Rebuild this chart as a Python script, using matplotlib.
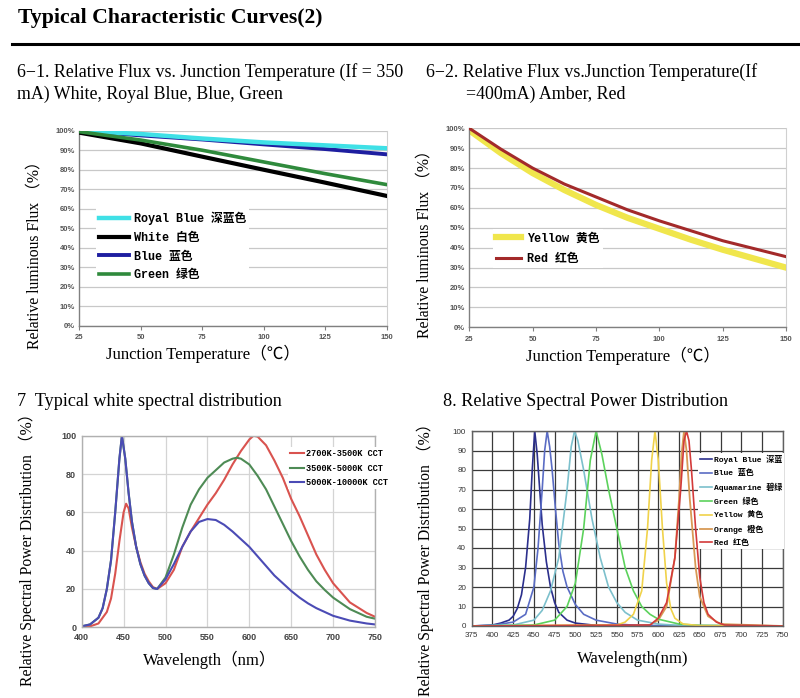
import matplotlib
matplotlib.use("Agg")
import matplotlib.pyplot as plt
from matplotlib.lines import Line2D

# ---------------- data ----------------
# 6-1 relative flux vs junction temperature (white, royal blue, blue, green)
t1 = [25, 50, 75, 100, 125, 150]
royal_blue_flux = [100, 98.3, 96.0, 94.0, 92.5, 91.0]
white_flux = [99.0, 93.5, 86.7, 80.0, 73.4, 66.6]
blue_flux = [100, 97.6, 95.5, 93.0, 90.6, 87.9]
green_flux = [99.5, 95.2, 90.0, 84.0, 78.0, 72.4]

# 6-2 relative flux vs junction temperature (yellow, red)
t2 = [25, 37.5, 50, 62.5, 75, 87.5, 100, 112.5, 125, 137.5, 150]
yellow_flux = [99, 87.5, 77.5, 69, 61.5, 55, 49.5, 44, 39, 34.5, 30]
red_flux = [100, 89.5, 80, 72, 65.5, 59, 53.5, 48.5, 43.5, 39.5, 35.5]

temp_ticks = [25, 50, 75, 100, 125, 150]
pct_ticks = [0, 10, 20, 30, 40, 50, 60, 70, 80, 90, 100]
pct_labels = ["0%", "10%", "20%", "30%", "40%", "50%", "60%", "70%", "80%", "90%", "100%"]

# 7 typical white spectral distribution
wl_cool = [400, 410, 420, 425, 430, 435, 440, 445, 448, 452, 456, 460, 465, 470, 475, 480, 485, 490,
           500, 510, 520, 530, 540, 550, 560, 570, 580, 590, 600, 610, 620, 630, 640, 650, 660, 670,
           680, 690, 700, 720, 740, 750]
spd_cool = [0.5, 1.5, 5, 10, 20, 35, 60, 88, 100, 88, 70, 55, 42, 33, 27, 23, 20.5, 20,
            25, 33, 42, 50, 55, 56.5, 56, 53.5, 50, 46, 42, 37, 32, 27, 23, 19, 15.5, 12.5,
            10, 8, 6, 3.5, 2, 1.5]
wl_neutral = [400, 410, 420, 425, 430, 435, 440, 445, 448, 452, 456, 460, 465, 470, 475, 480, 485, 490,
              500, 510, 520, 530, 540, 550, 560, 570, 580, 585, 590, 600, 610, 620, 630, 640, 650, 660,
              670, 680, 690, 700, 720, 740, 750]
spd_neutral = [0.5, 1.5, 5, 10, 20, 35, 60, 88, 100, 88, 70, 55, 42, 33, 27, 23, 20.5, 20,
               26, 38, 52, 64, 72, 78, 82, 86, 88, 88.5, 88, 85, 79, 72, 63, 54, 45, 37,
               30, 24, 19.5, 15.5, 9.5, 5.5, 4.5]
wl_warm = [400, 410, 420, 430, 435, 440, 445, 450, 453, 456, 460, 465, 470, 475, 480, 485, 490,
           500, 510, 520, 530, 540, 550, 560, 570, 580, 590, 600, 605, 610, 620, 630, 640, 650,
           660, 670, 680, 690, 700, 720, 740, 750]
spd_warm = [0, 0.5, 2, 8, 15, 28, 45, 60, 64.5, 62, 52, 42, 34, 28, 24, 21, 20,
            23, 30, 42, 50, 57, 64, 70, 77, 85, 92, 98, 100, 99.5, 95, 87, 78, 67,
            58, 48, 38, 30, 23, 13, 7.5, 5.5]
cct_labels = ["2700K-3500K CCT", "3500K-5000K CCT", "5000K-10000K CCT"]

# 8 relative spectral power distribution (monochrome LEDs)
wl_royal = [375, 400, 410, 420, 425, 430, 435, 440, 445, 448, 451, 454, 457, 460, 465, 470, 475,
            480, 490, 500, 525, 550, 750]
spd_royal = [0, 0.5, 1.5, 3, 5, 9, 16, 30, 55, 80, 100, 88, 70, 52, 33, 20, 12,
             7, 3, 1.5, 0.3, 0, 0]
wl_blue = [375, 400, 425, 440, 450, 455, 460, 463, 466, 469, 472, 476, 480, 485, 490, 500, 510,
           525, 550, 575, 750]
spd_blue = [0, 0.3, 2, 6, 20, 40, 70, 90, 100, 92, 80, 60, 42, 28, 20, 11, 6,
            3, 1, 0.3, 0]
wl_aqua = [375, 425, 450, 460, 470, 480, 490, 495, 499, 503, 510, 520, 530, 540, 550, 560, 575,
           600, 625, 750]
spd_aqua = [0, 0.5, 3, 8, 18, 35, 70, 92, 100, 95, 80, 55, 35, 20, 12, 7, 3,
            1, 0.3, 0]
wl_green = [375, 450, 475, 490, 500, 510, 518, 525, 532, 540, 550, 560, 570, 580, 590, 600, 625,
            650, 750]
spd_green = [0, 0.5, 3, 10, 22, 50, 85, 100, 88, 70, 50, 30, 18, 10, 6, 3.5, 1,
             0.3, 0]
wl_yellow = [375, 550, 560, 570, 580, 587, 592, 596, 600, 605, 610, 615, 620, 630, 650, 750]
spd_yellow = [0, 0.5, 2, 6, 18, 50, 85, 100, 85, 50, 22, 9, 4, 1, 0.2, 0]
wl_orange = [375, 590, 600, 610, 620, 625, 628, 631, 634, 638, 645, 650, 660, 675, 750]
spd_orange = [0, 0.5, 3, 10, 35, 65, 88, 100, 90, 65, 30, 15, 5, 1, 0]
wl_red = [375, 590, 600, 610, 620, 627, 631, 634, 637, 640, 645, 650, 655, 660, 670, 680, 750]
spd_red = [0, 0.5, 4, 12, 35, 70, 95, 100, 95, 80, 50, 25, 12, 6, 2, 0.5, 0]
led_labels = ["Royal Blue 深蓝", "Blue 蓝色", "Aquamarine 碧绿", "Green 绿色",
              "Yellow 黄色", "Orange 橙色", "Red 红色"]

# ---------------- style ----------------
W, H = 800, 698
SERIF = ["Liberation Serif", "Noto Sans CJK SC", "DejaVu Sans"]
MONO = ["Liberation Mono", "Noto Sans CJK SC", "DejaVu Sans"]
TICKF = ["Liberation Sans", "DejaVu Sans"]


def fx(x):
    return x / W


def fy(y):
    return 1 - y / H


def axrect(x0, y0, x1, y1):
    return [fx(x0), fy(y1), (x1 - x0) / W, (y1 - y0) / H]


fig = plt.figure(figsize=(8, 6.98), dpi=100)
fig.patch.set_facecolor("white")

# header
fig.text(fx(18), fy(18), "Typical Characteristic Curves(2)", fontsize=15.7, fontweight="bold",
         family=SERIF, ha="left", va="center")
fig.add_artist(Line2D([fx(12), fx(800)], [fy(44), fy(44)], color="black", lw=2.2,
                      transform=fig.transFigure))

SUB = 12.9
fig.text(fx(17), fy(72), "6−1. Relative Flux vs. Junction Temperature (If = 350",
         fontsize=SUB, family=SERIF, ha="left", va="center")
fig.text(fx(17), fy(94), "mA) White, Royal Blue, Blue, Green",
         fontsize=SUB, family=SERIF, ha="left", va="center")
fig.text(fx(426), fy(72), "6−2. Relative Flux vs.Junction Temperature(If",
         fontsize=SUB, family=SERIF, ha="left", va="center")
fig.text(fx(466), fy(94), "=400mA) Amber, Red",
         fontsize=SUB, family=SERIF, ha="left", va="center")
fig.text(fx(17), fy(402), "7  Typical white spectral distribution",
         fontsize=13.1, family=SERIF, ha="left", va="center")
fig.text(fx(443), fy(402), "8. Relative Spectral Power Distribution",
         fontsize=13.1, family=SERIF, ha="left", va="center")

YLF = 11.3


def flux_axes(rect):
    ax = fig.add_axes(rect)
    ax.set_xlim(25, 150)
    ax.set_ylim(0, 100)
    ax.set_xticks(temp_ticks)
    ax.set_xticklabels([str(t) for t in temp_ticks], fontsize=5.5, fontweight="bold",
                       color="#555555", family=TICKF)
    ax.set_yticks(pct_ticks)
    ax.set_yticklabels(pct_labels, fontsize=5.5, fontweight="bold", color="#555555", family=TICKF)
    ax.grid(axis="y", color="#C8C8C8", lw=0.9)
    ax.set_axisbelow(True)
    for s in ["left", "bottom"]:
        ax.spines[s].set_color("#808080")
        ax.spines[s].set_linewidth(1.0)
    ax.spines["top"].set_visible(False)
    ax.spines["right"].set_color("#D0D0D0")
    ax.tick_params(axis="y", length=0, pad=3)
    ax.tick_params(axis="x", length=3, color="#808080", pad=3)
    return ax


# ---- panel 6-1 ----
ax1 = flux_axes(axrect(79.3, 130.7, 386.7, 326))
l_rb, = ax1.plot(t1, royal_blue_flux, color="#3FE0E6", lw=3.2, label="Royal Blue 深蓝色", zorder=3)
l_w, = ax1.plot(t1, white_flux, color="#000000", lw=3.0, label="White 白色", zorder=3)
l_b, = ax1.plot(t1, blue_flux, color="#1E1EA0", lw=2.8, label="Blue 蓝色", zorder=2)
l_g, = ax1.plot(t1, green_flux, color="#2F8A3C", lw=2.6, label="Green 绿色", zorder=3)
ax1.legend(handles=[l_rb, l_w, l_b, l_g], loc="upper left", bbox_to_anchor=(fx(90), fy(202)),
           bbox_transform=fig.transFigure, prop={"family": MONO, "size": 8.5, "weight": "bold"},
           frameon=True, framealpha=1, edgecolor="none", fancybox=False, handlelength=2.5,
           handletextpad=0.4, labelspacing=0.58, borderpad=0.3)
fig.text(fx(35), fy(251), "Relative luminous Flux （%）", rotation=90, fontsize=YLF,
         family=SERIF, ha="center", va="center")
fig.text(fx(203), fy(354), "Junction Temperature（℃）", fontsize=12, family=SERIF,
         ha="center", va="center")

# ---- panel 6-2 ----
ax2 = flux_axes(axrect(469.3, 128.3, 786, 327.3))
l_y, = ax2.plot(t2, yellow_flux, color="#F0E64C", lw=4.5, label="Yellow 黄色", zorder=2)
l_r, = ax2.plot(t2, red_flux, color="#A32A2A", lw=2.2, label="Red 红色", zorder=3)
ax2.legend(handles=[l_y, l_r], loc="upper left", bbox_to_anchor=(fx(487), fy(223)),
           bbox_transform=fig.transFigure, prop={"family": MONO, "size": 8.5, "weight": "bold"},
           frameon=True, framealpha=1, edgecolor="none", fancybox=False, handlelength=2.1,
           handletextpad=0.5, labelspacing=0.7, borderpad=0.3)
fig.text(fx(425), fy(240), "Relative luminous Flux （%）", rotation=90, fontsize=YLF,
         family=SERIF, ha="center", va="center")
fig.text(fx(623), fy(356), "Junction Temperature（℃）", fontsize=12, family=SERIF,
         ha="center", va="center")

# ---- panel 7 ----
ax3 = fig.add_axes(axrect(81.7, 435.7, 375, 627.3))
ax3.set_xlim(400, 750)
ax3.set_ylim(0, 100)
ax3.set_xticks(list(range(400, 751, 50)))
ax3.set_yticks(list(range(0, 101, 20)))
ax3.tick_params(labelsize=6.5, length=0, pad=4, labelcolor="#444444")
for lab in ax3.get_xticklabels() + ax3.get_yticklabels():
    lab.set_family(TICKF)
    lab.set_fontweight("bold")
ax3.grid(color="#D4D4D4", lw=0.9)
ax3.set_axisbelow(True)
for s in ax3.spines.values():
    s.set_color("#B0B0B0")
    s.set_linewidth(1.0)
h1, = ax3.plot(wl_warm, spd_warm, color="#D9534F", lw=1.5, label=cct_labels[0])
h2, = ax3.plot(wl_neutral, spd_neutral, color="#4E8B55", lw=1.5, label=cct_labels[1])
h3, = ax3.plot(wl_cool, spd_cool, color="#4B4BB5", lw=1.5, label=cct_labels[2])
ax3.legend(handles=[h1, h2, h3], loc="upper left", bbox_to_anchor=(fx(284), fy(443)),
           bbox_transform=fig.transFigure, prop={"family": MONO, "size": 6.2, "weight": "bold"},
           frameon=True, framealpha=1, edgecolor="none", fancybox=False, handlelength=1.6,
           handletextpad=0.3, labelspacing=0.65, borderpad=0.2)
fig.text(fx(27), fy(546), "Relative Spectral Power Distribution （%）", rotation=90,
         fontsize=YLF, family=SERIF, ha="center", va="center")
fig.text(fx(210), fy(660), "Wavelength（nm）", fontsize=12, family=SERIF, ha="center", va="center")

# ---- panel 8 ----
ax4 = fig.add_axes(axrect(471.7, 431, 782.7, 626))
ax4.set_xlim(375, 750)
ax4.set_ylim(0, 100)
ax4.set_xticks(list(range(375, 751, 25)))
ax4.set_yticks(list(range(0, 101, 10)))
ax4.tick_params(labelsize=5.8, length=0, pad=4, labelcolor="#333333")
for lab in ax4.get_xticklabels() + ax4.get_yticklabels():
    lab.set_family(TICKF)
ax4.grid(color="#3A3A3A", lw=0.9)
ax4.set_axisbelow(True)
for s in ax4.spines.values():
    s.set_color("#606060")
    s.set_linewidth(1.0)
g_or, = ax4.plot(wl_orange, spd_orange, color="#D89A55", lw=1.3, label=led_labels[5])
g_rb, = ax4.plot(wl_royal, spd_royal, color="#2B2F8C", lw=1.2, label=led_labels[0])
g_b, = ax4.plot(wl_blue, spd_blue, color="#5A6CC4", lw=1.2, label=led_labels[1])
g_a, = ax4.plot(wl_aqua, spd_aqua, color="#7CC0CC", lw=1.2, label=led_labels[2])
g_g, = ax4.plot(wl_green, spd_green, color="#5CD25C", lw=1.2, label=led_labels[3])
g_y, = ax4.plot(wl_yellow, spd_yellow, color="#F0D24A", lw=1.2, label=led_labels[4])
g_r, = ax4.plot(wl_red, spd_red, color="#D33A3A", lw=1.2, label=led_labels[6])
ax4.legend(handles=[g_rb, g_b, g_a, g_g, g_y, g_or, g_r], loc="upper left",
           bbox_to_anchor=(fx(694), fy(449)), bbox_transform=fig.transFigure,
           prop={"family": MONO, "size": 5.8, "weight": "bold"}, frameon=True, framealpha=1,
           edgecolor="none", fancybox=False, handlelength=1.5, handletextpad=0.3,
           labelspacing=0.68, borderpad=0.2)
fig.text(fx(425), fy(556), "Relative Spectral Power Distribution （%）", rotation=90,
         fontsize=YLF, family=SERIF, ha="center", va="center")
fig.text(fx(633), fy(659), "Wavelength(nm)", fontsize=12, family=SERIF, ha="center", va="center")

fig.savefig("out.png", dpi=100, facecolor="white")
